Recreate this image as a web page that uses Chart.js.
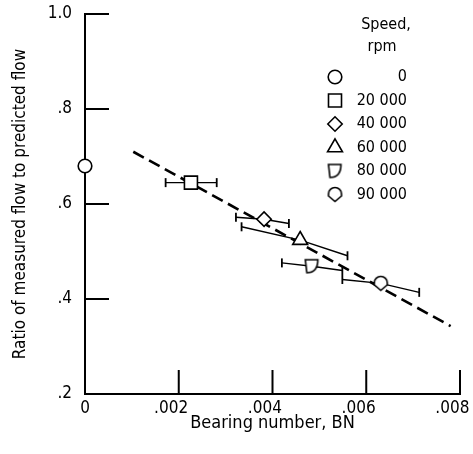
<!DOCTYPE html>
<html>
<head>
<meta charset="utf-8">
<script src="https://cdn.jsdelivr.net/npm/chart.js@4/dist/chart.umd.min.js"></script>
<style>
  html, body { margin: 0; padding: 0; background: #fff; }
  #wrap { width: 473px; height: 454px; }
</style>
</head>
<body>
<div id="wrap"><canvas id="flowChart" width="473" height="454"></canvas></div>
<script>
// Data
const speeds = ['0', '20 000', '40 000', '60 000', '80 000', '90 000'];
const bearingNum = [0, 0.00226, 0.00382, 0.00459, 0.00484, 0.00631];
const flowRatio = [0.68, 0.645, 0.568, 0.524, 0.469, 0.433];

// error bar ends (they are drawn slanted in the original)
const errLowX = [null, 0.00172, 0.00322, 0.00334, 0.0042, 0.00549];
const errLowY = [null, 0.645, 0.572, 0.552, 0.476, 0.441];
const errHighX = [null, 0.00281, 0.00435, 0.0056, 0.00549, 0.00713];
const errHighY = [null, 0.645, 0.559, 0.491, 0.46, 0.414];

// dashed fit line
const fitX = [0.00103, 0.0078];
const fitY = [0.71, 0.343];

const xTicks = [0, 0.002, 0.004, 0.006, 0.008];
const yTicks = [0.2, 0.4, 0.6, 0.8, 1.0];

const FONT = "'DejaVu Sans Condensed', 'DejaVu Sans', sans-serif";

// custom marker shapes for 80 000 and 90 000 rpm
function makeShape(drawFn) {
    const c = document.createElement('canvas');
    c.width = 17;
    c.height = 17;
    const g = c.getContext('2d');
    g.lineWidth = 1.6;
    g.strokeStyle = '#000';
    g.fillStyle = '#fff';
    g.beginPath();
    drawFn(g);
    g.closePath();
    g.fill();
    g.stroke();
    return c;
}

const dShape = makeShape(function (g) {
    g.moveTo(2, 2);
    g.lineTo(14.5, 2);
    g.bezierCurveTo(14.5, 10, 11, 15, 3.5, 15);
});

const shieldShape = makeShape(function (g) {
    g.arc(8.5, 8, 6.5, Math.PI, 2 * Math.PI);
    g.lineTo(15, 10);
    g.lineTo(8.5, 15.5);
    g.lineTo(2, 10);
});

const markerStyles = ['circle', 'rect', 'rectRot', 'triangle', dShape, shieldShape];
const markerSizes = [6.8, 9.2, 7.2, 8.6, 7, 7];

let datasets = [];

// markers
speeds.forEach(function (s, i) {
    datasets.push({
        type: 'scatter',
        label: s,
        data: [{ x: bearingNum[i], y: flowRatio[i] }],
        pointStyle: markerStyles[i],
        pointRadius: markerSizes[i],
        pointBackgroundColor: '#fff',
        pointBorderColor: '#000',
        pointBorderWidth: 1.6,
        order: 0,
        clip: false
    });
});

// error bars
speeds.forEach(function (s, i) {
    if (errLowX[i] === null) return;
    datasets.push({
        type: 'line',
        label: 'err' + i,
        data: [
            { x: errLowX[i], y: errLowY[i] },
            { x: bearingNum[i], y: flowRatio[i] },
            { x: errHighX[i], y: errHighY[i] }
        ],
        borderColor: '#000',
        borderWidth: 1.4,
        pointStyle: 'line',
        pointRotation: 90,
        pointRadius: [4.5, 0, 4.5],
        pointBorderColor: '#000',
        pointBorderWidth: 1.8,
        fill: false,
        order: 1,
        clip: false
    });
});

// dashed line
datasets.push({
    type: 'line',
    label: 'fit',
    data: fitX.map(function (x, i) { return { x: x, y: fitY[i] }; }),
    borderColor: '#000',
    borderWidth: 2.6,
    borderDash: [12, 6],
    pointRadius: 0,
    fill: false,
    order: 2
});

// ticks pointing into the plot
const inwardTicks = {
    id: 'inwardTicks',
    afterDraw(chart) {
        const ctx = chart.ctx;
        const xs = chart.scales.x;
        const ys = chart.scales.y;
        const len = 24;
        ctx.save();
        ctx.strokeStyle = '#000';
        ctx.lineWidth = 2;
        ctx.beginPath();
        xTicks.forEach(function (v) {
            const px = xs.getPixelForValue(v);
            ctx.moveTo(px, ys.bottom);
            ctx.lineTo(px, ys.bottom - len);
        });
        yTicks.forEach(function (v) {
            const py = ys.getPixelForValue(v);
            ctx.moveTo(xs.left, py);
            ctx.lineTo(xs.left + len, py);
        });
        ctx.stroke();
        ctx.restore();
    }
};

// legend box with title "Speed, rpm"
const speedLegend = {
    id: 'speedLegend',
    afterDraw(chart) {
        const ctx = chart.ctx;
        ctx.save();
        ctx.fillStyle = '#000';
        ctx.font = '16px ' + FONT;
        ctx.textAlign = 'center';
        ctx.textBaseline = 'middle';
        ctx.fillText('Speed,', 386, 25);
        ctx.fillText('rpm', 382, 47);
        ctx.textAlign = 'right';
        for (let i = 0; i < speeds.length; i++) {
            const y = 77 + i * 23.5;
            ctx.fillStyle = '#fff';
            ctx.strokeStyle = '#000';
            ctx.lineWidth = 1.6;
            Chart.helpers.drawPoint(ctx, {
                pointStyle: markerStyles[i],
                radius: markerSizes[i],
                rotation: 0,
                borderWidth: 1.6
            }, 335, y);
            ctx.fillStyle = '#000';
            ctx.fillText(speeds[i], 407, y);
        }
        ctx.restore();
    }
};

const config = {
    type: 'scatter',
    data: { datasets: datasets },
    options: {
        responsive: false,
        animation: false,
        layout: { padding: { top: 14, right: 13, left: 0, bottom: 0 } },
        plugins: {
            legend: { display: false },
            tooltip: { enabled: false }
        },
        scales: {
            x: {
                type: 'linear',
                min: 0,
                max: 0.008,
                afterBuildTicks: function (scale) {
                    scale.ticks = xTicks.map(function (v) { return { value: v }; });
                },
                afterFit: function (scale) {
                    scale.height = 60;
                    scale.paddingLeft = 0;
                    scale.paddingRight = 0;
                },
                grid: { display: true, drawOnChartArea: false, drawTicks: false },
                border: { display: true, color: '#000', width: 2 },
                ticks: {
                    color: '#000',
                    padding: 4,
                    maxRotation: 0,
                    font: { family: FONT, size: 17 },
                    callback: function (v) {
                        if (v === 0) return '0';
                        // leading period hangs left of the tick, as in the original
                        return v.toFixed(3).replace(/^0/, '') + '\u2003';
                    }
                },
                title: {
                    display: true,
                    text: 'Bearing number, BN',
                    color: '#000',
                    font: { family: FONT, size: 18 },
                    padding: { top: 0, bottom: 20 }
                }
            },
            y: {
                type: 'linear',
                min: 0.2,
                max: 1.0,
                afterBuildTicks: function (scale) {
                    scale.ticks = yTicks.map(function (v) { return { value: v }; });
                },
                afterFit: function (scale) {
                    scale.width = 85;
                    scale.paddingTop = 0;
                    scale.paddingBottom = 0;
                },
                grid: { display: true, drawOnChartArea: false, drawTicks: false },
                border: { display: true, color: '#000', width: 2 },
                ticks: {
                    color: '#000',
                    padding: 13,
                    font: { family: FONT, size: 17 },
                    callback: function (v) {
                        if (Math.abs(v - 1) < 1e-9) return '1.0';
                        return v.toFixed(1).replace(/^0/, '');
                    }
                },
                title: {
                    display: true,
                    text: 'Ratio of measured flow to predicted flow',
                    color: '#000',
                    font: { family: FONT, size: 17 },
                    padding: { top: 10, bottom: 0 }
                }
            }
        }
    },
    plugins: [inwardTicks, speedLegend]
};

const flowChart = new Chart(document.getElementById('flowChart'), config);
</script>
</body>
</html>
